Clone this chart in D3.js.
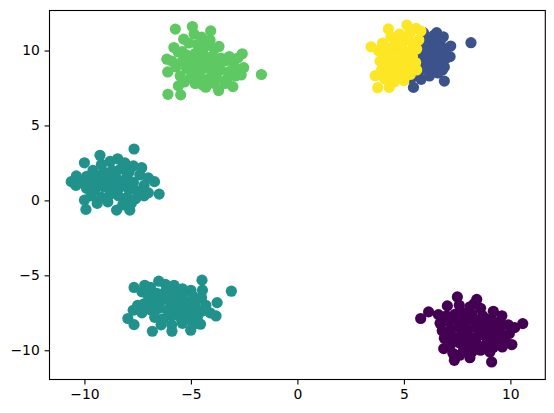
<!DOCTYPE html>
<html>
<head>
<meta charset="utf-8">
<script src="https://cdn.jsdelivr.net/npm/d3@7"></script>
<style>
  html, body { margin: 0; padding: 0; background: #fff; }
  svg { display: block; }
  text { font-family: "DejaVu Sans", sans-serif; }
</style>
</head>
<body>
<script>
// ---- data ----
const labels = [0, 1, 2, 3, 4];
const labelColors = ["#440154", "#3b528b", "#21918c", "#5ec962", "#fde725"];
const xTicks = [-10, -5, 0, 5, 10];
const yTicks = [-10, -5, 0, 5, 10];

const greenPts = [[-5.73,11.43],[-4.93,11.60],[-4.07,11.31],[-5.41,9.93],[-6.13,9.42],[-6.09,8.57],[-6.08,7.08],[-5.48,7.04],[-5.59,7.64],[-1.69,8.40],[-2.59,9.78],[-2.52,8.86],[-2.64,8.37],[-3.03,7.59],[-3.70,7.33],[-4.30,7.55],[-3.68,10.27],[-5.34,10.76],
[-4.85,11.1],[-4.5,10.9],[-4.1,10.7],[-5.1,10.5],[-4.7,10.4],[-4.3,10.3],[-3.9,10.1],[-5.6,9.9],[-5.2,9.7],[-4.8,9.8],[-4.4,9.7],[-4.0,9.6],[-3.6,9.5],[-5.9,9.3],[-5.4,9.3],[-5.0,9.2],[-4.6,9.3],[-4.2,9.1],[-3.8,9.2],[-3.4,9.3],[-3.0,9.1],[-5.7,8.9],[-5.2,8.8],[-4.8,8.7],[-4.4,8.8],[-4.0,8.6],[-3.6,8.7],[-3.2,8.6],[-2.9,8.8],[-5.5,8.3],[-5.0,8.2],[-4.6,8.3],[-4.2,8.1],[-3.8,8.2],[-3.3,8.1],[-2.9,8.3],[-5.3,7.9],[-4.8,7.8],[-4.45,7.7],[-3.9,7.8],[-3.4,7.8],[-4.6,9.9],[-4.3,9.4],[-4.9,9.5],[-4.1,8.9],[-3.2,9.6],[-5.8,10.2],[-4.6,10.0],[-3.75,8.9],[-2.8,9.5]];

const bluePts = [[5.92,11.19],[6.54,11.19],[6.85,10.92],[8.15,10.52],[7.17,9.59],[6.81,8.70],[6.90,7.96],[5.81,8.08],[5.45,7.54],[5.34,8.14],
[6.0,10.8],[6.3,10.6],[6.7,10.5],[6.1,10.3],[6.5,10.2],[6.9,10.1],[5.8,10.0],[6.2,9.9],[6.6,9.8],[7.0,9.5],[5.9,9.6],[6.3,9.5],[6.7,9.3],[5.7,9.3],[6.1,9.2],[6.5,9.0],[6.9,8.9],[6.0,8.8],[6.4,8.6],[5.7,8.6],[6.2,8.3],[6.6,8.5],[5.9,10.5],[6.4,11.0],[7.2,10.3]];

const yellowPts = [[3.46,10.25],[4.27,11.44],[5.14,11.70],[5.57,11.48],[3.88,9.30],[3.65,8.32],[3.77,7.52],[4.31,7.54],[4.27,8.63],[4.74,8.25],[5.29,8.81],
[4.0,10.5],[4.4,10.9],[4.8,11.1],[5.3,11.2],[5.1,10.8],[4.6,10.6],[4.2,10.2],[3.8,10.0],[4.5,10.1],[4.9,10.3],[5.4,10.5],[5.6,10.1],[5.2,9.9],[4.8,9.8],[4.3,9.6],[4.6,9.3],[5.0,9.4],[5.4,9.6],[5.55,9.2],[5.1,9.0],[4.7,8.9],[4.3,9.0],[3.95,8.7],[4.5,8.5],[4.9,8.6],[5.3,8.4],[4.1,8.1],[4.55,7.9],[5.0,8.0],[5.7,10.7],[5.8,11.3],[4.0,9.8],[5.6,8.7]];

const tealLeftPts = [[-10.0,2.51],[-9.27,3.01],[-8.44,2.78],[-7.67,3.43],[-7.31,2.18],[-10.62,1.25],[-10.38,1.63],[-6.71,1.25],[-6.49,0.42],[-9.93,-0.60],[-8.49,-0.65],[-7.87,-0.65],[-10.0,0.02],
[-9.6,2.0],[-9.2,2.4],[-8.8,2.6],[-8.1,2.5],[-7.7,2.3],[-9.9,1.6],[-9.5,1.7],[-9.1,1.9],[-8.7,2.0],[-8.3,2.1],[-7.9,1.9],[-7.4,1.7],[-7.0,1.5],[-10.2,1.2],[-9.7,1.2],[-9.3,1.3],[-8.9,1.4],[-8.5,1.5],[-8.1,1.3],[-7.7,1.2],[-7.2,1.0],[-9.9,0.8],[-9.5,0.7],[-9.1,0.9],[-8.7,0.8],[-8.3,0.9],[-7.9,0.7],[-7.5,0.6],[-7.0,0.5],[-9.7,0.3],[-9.2,0.2],[-8.8,0.4],[-8.4,0.3],[-8.0,0.2],[-7.6,0.1],[-7.2,0.3],[-9.4,-0.2],[-8.9,-0.1],[-8.2,-0.3],[-7.8,-0.2],[-10.4,1.0],[-8.6,1.1],[-8.0,1.6]];

const tealBottomPts = [[-7.67,-5.81],[-7.71,-7.33],[-7.96,-7.88],[-7.67,-8.29],[-6.81,-8.73],[-5.89,-8.73],[-5.01,-8.66],[-4.55,-8.26],[-3.82,-7.71],[-3.77,-6.82],[-3.10,-6.06],[-4.48,-5.32],[-4.46,-5.99],[-6.51,-5.39],[-7.17,-5.66],[-5.79,-5.66],
[-7.3,-6.1],[-6.9,-5.8],[-6.2,-5.6],[-5.4,-5.9],[-5.0,-6.0],[-7.0,-6.4],[-6.6,-6.2],[-6.2,-6.1],[-5.8,-6.2],[-5.4,-6.3],[-4.9,-6.4],[-4.5,-6.5],[-7.2,-6.9],[-6.8,-6.8],[-6.4,-6.7],[-6.0,-6.7],[-5.6,-6.8],[-5.2,-6.8],[-4.8,-6.9],[-4.3,-7.0],[-7.3,-7.5],[-6.9,-7.3],[-6.5,-7.2],[-6.1,-7.3],[-5.7,-7.2],[-5.3,-7.4],[-4.9,-7.3],[-4.5,-7.4],[-4.1,-7.5],[-6.7,-7.8],[-6.3,-7.9],[-5.9,-7.7],[-5.5,-7.8],[-5.1,-7.9],[-4.7,-7.8],[-6.4,-8.3],[-5.9,-8.3],[-5.4,-8.2],[-4.9,-8.3],[-5.6,-7.0],[-6.0,-5.8],[-7.5,-7.0]];

const purplePts = [[5.79,-7.88],[6.16,-7.44],[6.62,-7.62],[7.04,-7.04],[7.51,-6.44],[8.42,-6.61],[10.58,-8.22],[10.20,-8.49],[9.95,-8.89],[10.07,-9.62],[9.62,-9.78],[9.12,-10.78],[9.04,-10.11],[7.37,-10.67],[7.62,-10.33],[6.87,-9.89],
[7.6,-7.0],[8.1,-7.1],[8.6,-7.2],[9.2,-7.4],[9.6,-7.7],[7.0,-7.7],[7.4,-7.6],[7.8,-7.5],[8.2,-7.6],[8.7,-7.7],[9.1,-7.9],[9.5,-8.1],[9.9,-8.3],[6.7,-8.2],[7.1,-8.1],[7.5,-8.0],[7.9,-8.1],[8.3,-8.0],[8.7,-8.2],[9.1,-8.4],[9.5,-8.6],[6.8,-8.7],[7.2,-8.6],[7.6,-8.5],[8.0,-8.6],[8.4,-8.5],[8.8,-8.7],[9.2,-8.9],[9.6,-9.1],[6.9,-9.2],[7.3,-9.1],[7.7,-9.0],[8.1,-9.1],[8.5,-9.0],[8.9,-9.2],[9.3,-9.4],[7.2,-9.6],[7.6,-9.5],[8.0,-9.6],[8.4,-9.5],[8.8,-9.7],[9.2,-9.8],[7.8,-10.0],[8.2,-10.1],[8.6,-10.0],[8.1,-10.5],[7.3,-10.2],[8.3,-6.9],[9.8,-9.5]];

// groups: [points, label]
const groups = [
  [purplePts, 0],
  [tealLeftPts, 2],
  [tealBottomPts, 2],
  [greenPts, 3],
  [bluePts, 1],
  [yellowPts, 4]
];

// ---- layout ----
const W = 554, H = 413;
const margin = { left: 49.5, right: 554 - 545.3, top: 10.5, bottom: 413 - 379.5 };
const xDomain = [-11.64, 11.64];
const yDomain = [-11.95, 12.67];

const svg = d3.select("body").append("svg").attr("width", W).attr("height", H);

const x = d3.scaleLinear().domain(xDomain).range([margin.left, W - margin.right]);
const y = d3.scaleLinear().domain(yDomain).range([H - margin.bottom, margin.top]);
const color = d3.scaleOrdinal().domain(labels).range(labelColors);

const data = [];
groups.forEach(([pts, lab]) => pts.forEach(p => data.push({ x: p[0], y: p[1], label: lab })));

svg.append("g")
  .selectAll("circle")
  .data(data)
  .join("circle")
  .attr("cx", d => x(d.x))
  .attr("cy", d => y(d.y))
  .attr("r", 5.6)
  .attr("fill", d => color(d.label));

// frame
const frame = svg.append("rect")
  .attr("x", x.range()[0]).attr("y", y.range()[1])
  .attr("width", x.range()[1] - x.range()[0])
  .attr("height", y.range()[0] - y.range()[1])
  .attr("fill", "none").attr("stroke", "#000").attr("stroke-width", 1.1);

const fmt = d => d < 0 ? "\u2212" + Math.abs(d) : String(d);

const xAxis = svg.append("g")
  .attr("transform", `translate(0,${y.range()[0]})`)
  .call(d3.axisBottom(x).tickValues(xTicks).tickFormat(fmt).tickSize(4.9).tickPadding(4.8));
const yAxis = svg.append("g")
  .attr("transform", `translate(${x.range()[0]},0)`)
  .call(d3.axisLeft(y).tickValues(yTicks).tickFormat(fmt).tickSize(4.9).tickPadding(4.8));

[xAxis, yAxis].forEach(g => {
  g.select(".domain").remove();
  g.selectAll(".tick line").attr("stroke", "#000").attr("stroke-width", 1.1);
  g.selectAll(".tick text").attr("fill", "#000")
    .style("font-family", "'DejaVu Sans', sans-serif").style("font-size", "13.9px");
});
</script>
</body>
</html>
